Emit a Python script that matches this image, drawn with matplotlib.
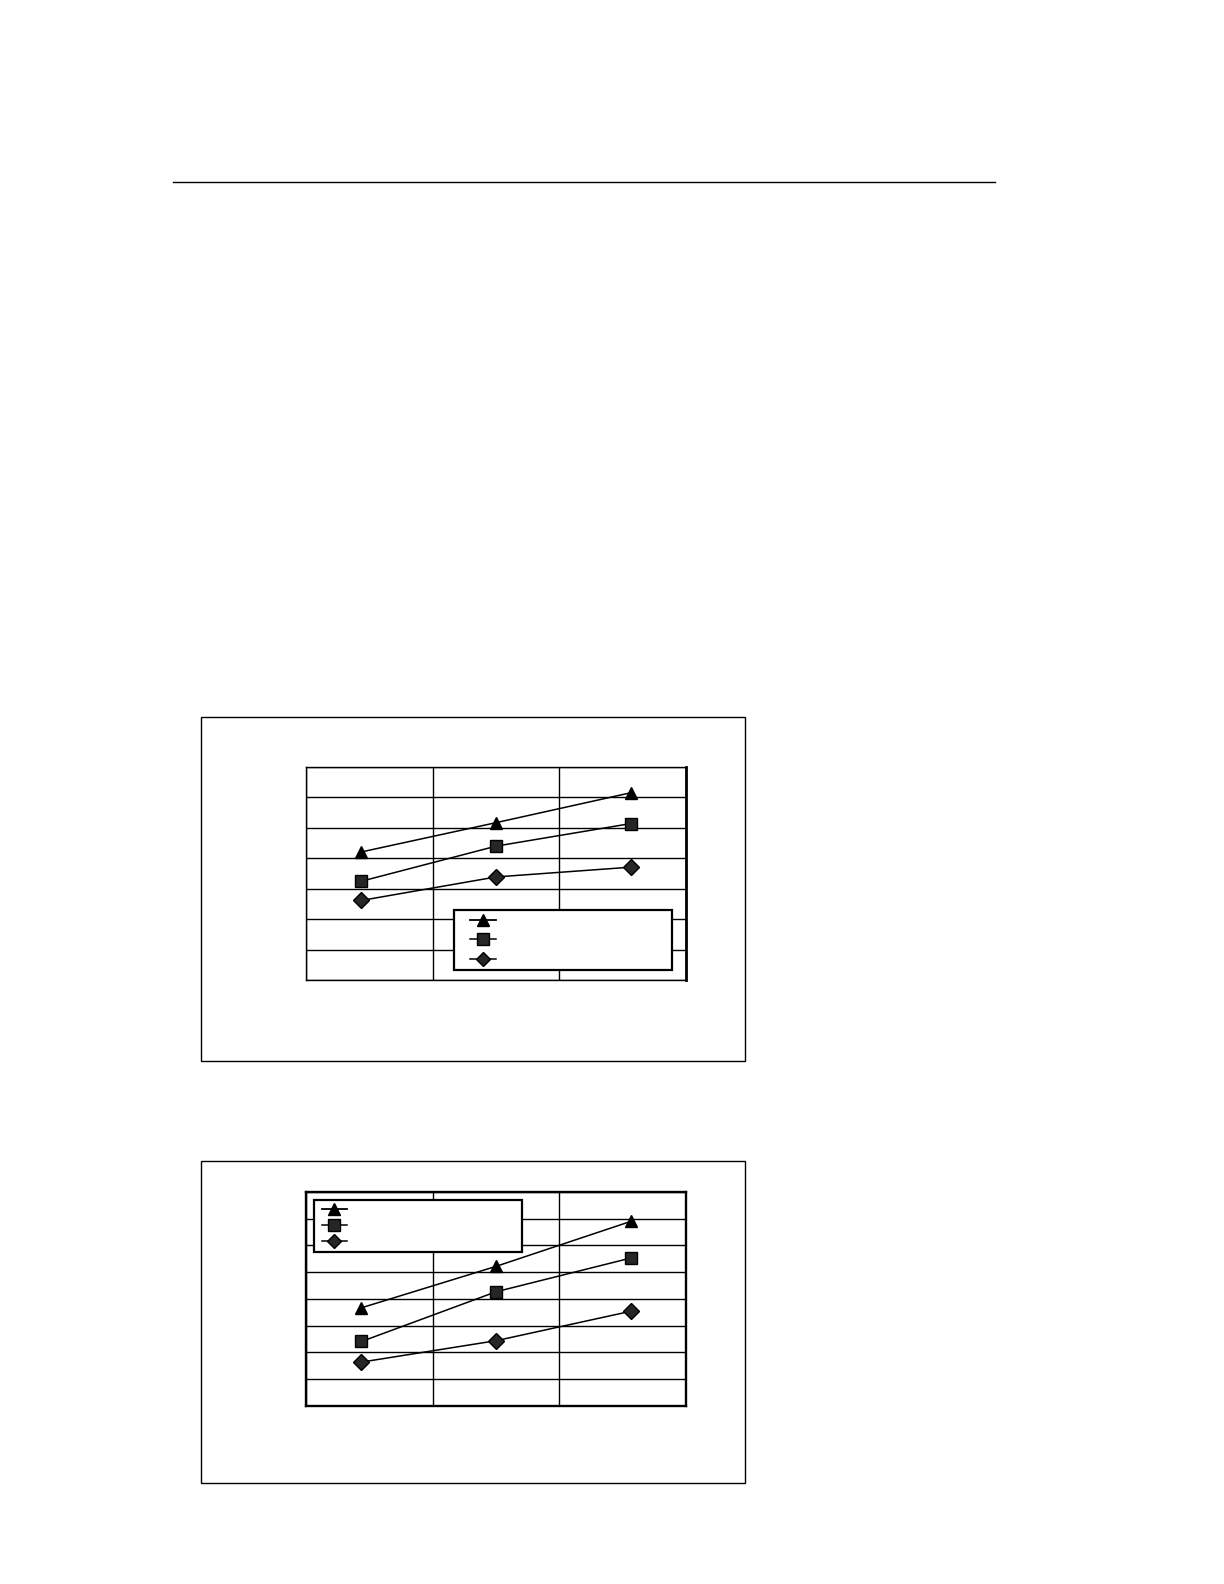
import numpy as np
import matplotlib.pyplot as plt
from matplotlib.patches import Rectangle
from matplotlib.lines import Line2D

# three categories, values in gridline units
x_pos = [0, 1, 2]

top_triangle = [4.21, 5.17, 6.15]
top_square = [3.25, 4.40, 5.14]
top_diamond = [2.62, 3.39, 3.71]

bottom_triangle = [3.67, 5.22, 6.90]
bottom_square = [2.41, 4.27, 5.53]
bottom_diamond = [1.64, 2.44, 3.54]

fig = plt.figure(figsize=(12.24, 15.84), dpi=100)

# rule across the top of the page
fig.add_artist(Line2D([0.1413, 0.8129], [0.8851, 0.8851], color='black', lw=1.0))

# outer frames round each chart
fig.add_artist(Rectangle((0.1645, 0.3302), 0.4444, 0.2170, fill=False, ec='black', lw=1.0))
fig.add_artist(Rectangle((0.1645, 0.0636), 0.4444, 0.2037, fill=False, ec='black', lw=1.0))


def draw_chart(ax, tri, sq, dia, n_rows, leg_loc, leg_box, leg_pad, leg_space, text_pad, thick):
    ax.plot(x_pos, tri, color='black', lw=1.1, marker='^', ms=9,
            mfc='black', mec='black', zorder=3)
    ax.plot(x_pos, sq, color='black', lw=1.1, marker='s', ms=8.5,
            mfc='#262626', mec='black', zorder=3)
    ax.plot(x_pos, dia, color='black', lw=1.1, marker='D', ms=8,
            mfc='#262626', mec='black', zorder=3)

    ax.set_xlim(-0.41, 2.41)
    ax.set_ylim(0, n_rows)
    ax.set_xticks(np.linspace(-0.41, 2.41, 4))
    ax.set_yticks(range(n_rows + 1))
    ax.grid(True, color='black', lw=1.0)
    ax.tick_params(length=0, labelbottom=False, labelleft=False)
    for side in ax.spines.values():
        side.set_linewidth(1.7 if thick else 1.0)
    if not thick:
        ax.spines['right'].set_linewidth(2.0)

    handles = [
        Line2D([], [], color='black', lw=1.3, marker='^', ms=8.5, mfc='black'),
        Line2D([], [], color='black', lw=1.1, marker='s', ms=8, mfc='#262626', mec='black'),
        Line2D([], [], color='black', lw=1.1, marker='D', ms=7.5, mfc='#262626', mec='black'),
    ]
    leg = ax.legend(handles, ['', '', ''], loc=leg_loc, bbox_to_anchor=leg_box,
                    mode='expand', fancybox=False, framealpha=1, edgecolor='black',
                    fontsize=10, handlelength=1.85, borderpad=leg_pad,
                    labelspacing=leg_space, handletextpad=text_pad,
                    markerfirst=False, borderaxespad=0)
    leg.get_frame().set_linewidth(1.6)
    leg.set_zorder(5)


ax1 = fig.add_axes([0.2502, 0.3811, 0.3103, 0.1348])
draw_chart(ax1, top_triangle, top_square, top_diamond, 7,
           'lower left', (0.39, 0.048, 0.572, 0.28), 0.26, 0.38, 0.87, False)

ax2 = fig.add_axes([0.2502, 0.1124, 0.3103, 0.1351])
draw_chart(ax2, bottom_triangle, bottom_square, bottom_diamond, 8,
           'upper left', (0.02, 0.0, 0.548, 0.962), 0.21, 0.14, 0.35, True)

plt.savefig('out.png', dpi=100)
